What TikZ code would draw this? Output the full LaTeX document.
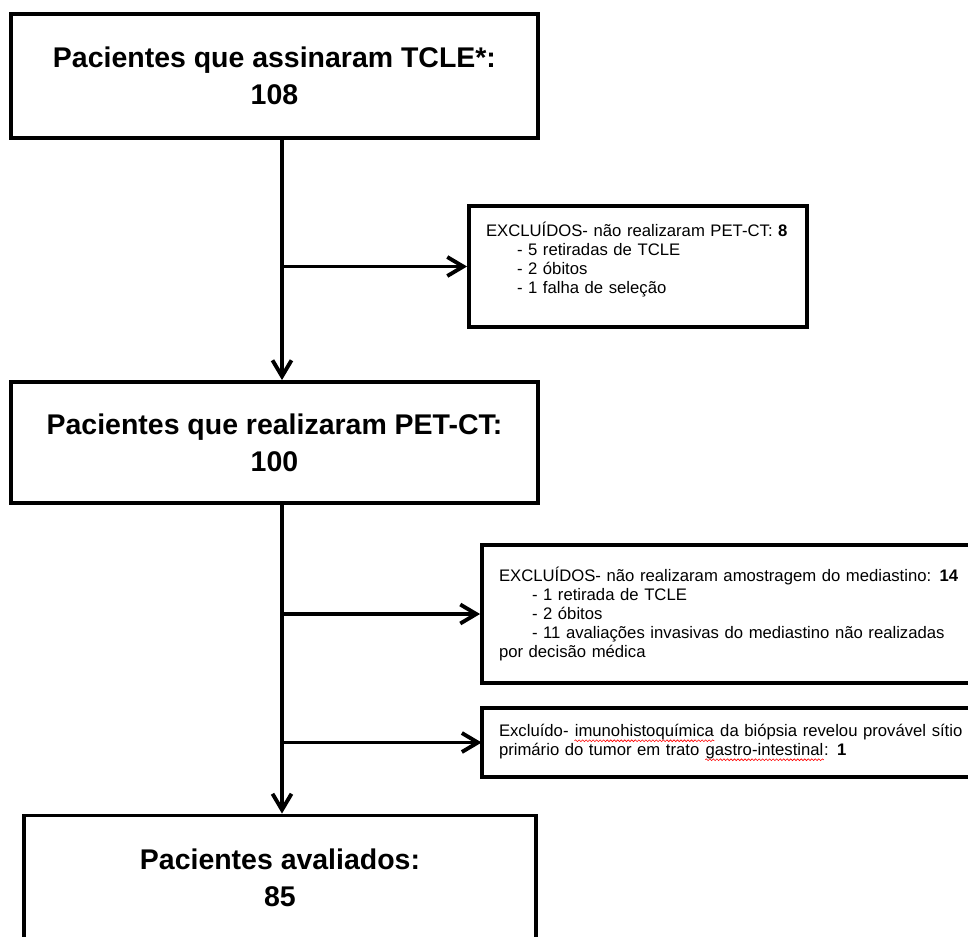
\documentclass[tikz,border=0pt]{standalone}
\usepackage{fontspec}
\setmainfont{Liberation Sans}
\usetikzlibrary{arrows.meta,decorations.pathmorphing}
\newcommand{\spellwave}[1]{\tikz[baseline=(w.base)]{\node[inner sep=0pt, minimum size=0pt,
    text width={}, align=none] (w) {#1};
  \draw[red, line width=0.35pt, decorate, decoration={snake, amplitude=0.5pt, segment length=2pt}]
    ([yshift=-0.3pt]w.south west) -- ([yshift=-0.3pt]w.south east);}}

\begin{document}
\begin{tikzpicture}[>={Straight Barb[length=3.2mm,width=3.8mm]}, line width=2.2pt,
  mainbox/.style={draw, rectangle, minimum height=2.48cm, align=center,
    font=\fontsize{16.2}{21}\selectfont\bfseries},
  exbox/.style={draw, rectangle, align=left, inner xsep=0.34cm,
    font=\fontsize{9.5}{10.8}\selectfont}]
  % Page frame, right boxes and last box run past it
  \useasboundingbox (0,0) rectangle (19.36,-18.72);
  \clip (0,0) rectangle (19.36,-18.72);
  % Consent box
  \node[mainbox, minimum width=10.54cm]
    (tcle) at (5.49,-1.52) {Pacientes que assinaram TCLE*:\\108};
  % PET-CT box
  \node[mainbox, minimum width=10.54cm, minimum height=2.42cm]
    (petct) at (5.49,-8.85) {Pacientes que realizaram PET-CT:\\100};
  % Final box
  \node[mainbox, minimum width=10.24cm]
    (final) at (5.6,-17.55) {Pacientes avaliados:\\85};
  % First exclusion
  \node[exbox, text width=6.08cm, minimum height=2.42cm]
    (exc1) at (12.76,-5.33) {EXCLUÍDOS- não realizaram PET-CT: \textbf{8}\\
    \hspace*{0.62cm}- 5 retiradas de TCLE\\
    \hspace*{0.62cm}- 2 óbitos\\
    \hspace*{0.62cm}- 1 falha de seleção\rule[-0.35cm]{0pt}{0pt}};
  % Second exclusion
  \node[exbox, text width=9.68cm, minimum height=2.76cm]
    (exc2) at (14.82,-12.28) {EXCLUÍDOS- não realizaram amostragem do mediastino: \textbf{14}\\
    \hspace*{0.66cm}- 1 retirada de TCLE\\
    \hspace*{0.66cm}- 2 óbitos\\
    \hspace*{0.66cm}- 11 avaliações invasivas do mediastino não realizadas\\
    por decisão médica};
  % Third exclusion
  \node[exbox, text width=9.68cm, minimum height=1.38cm]
    (exc3) at (14.82,-14.85) {Excluído- \spellwave{imunohistoquímica} da biópsia revelou provável sítio\\
    primário do tumor em trato \spellwave{gastro-intestinal}: \textbf{1}};
  % Main line
  \coordinate (trunk) at (5.64,0);
  \draw[->] (tcle.south -| trunk) -- (petct.north -| trunk);
  \draw[->] (petct.south -| trunk) -- (final.north -| trunk);
  % Branches to the exclusions
  \draw[->] (trunk |- exc1.west) -- (exc1.west);
  \draw[->] (trunk |- exc2.west) -- (exc2.west);
  \draw[->] (trunk |- exc3.west) -- (exc3.west);
\end{tikzpicture}
\end{document}
